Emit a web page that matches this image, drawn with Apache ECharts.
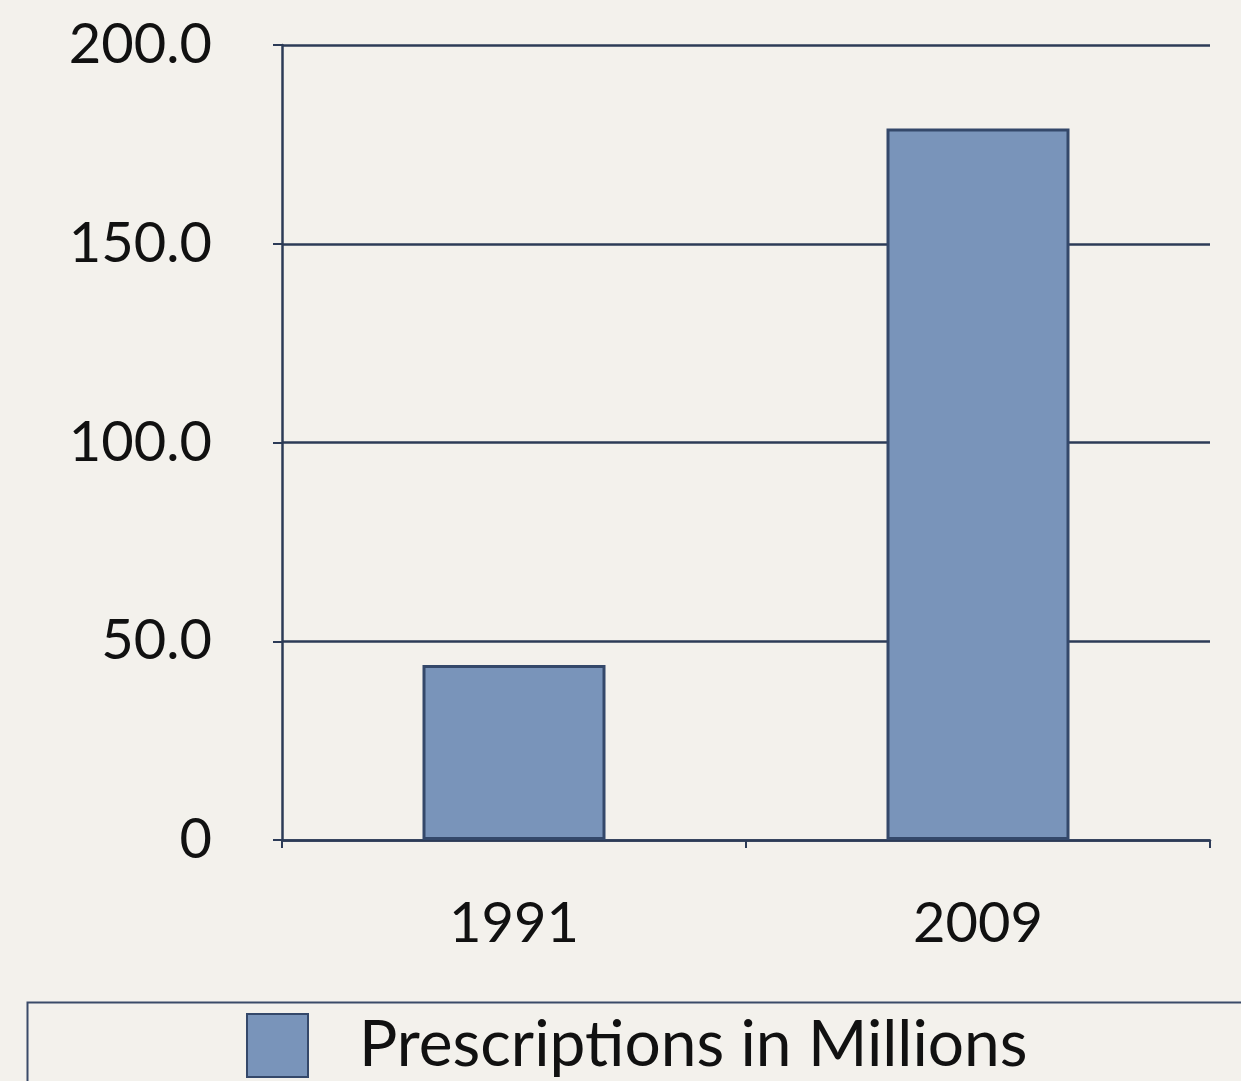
<!DOCTYPE html>
<html>
<head>
<meta charset="utf-8">
<script src="https://cdn.jsdelivr.net/npm/echarts@6/dist/echarts.min.js"></script>
<style>
html,body{margin:0;padding:0;background:#f3f1ec;}
#c{width:1241px;height:1081px;}
</style>
</head>
<body>
<div id="c"></div>
<script>
const categories = ["1991", "2009"];
const seriesName = "Prescriptions in Millions";
const values = [44, 179];
const yTickLabels = ["0", "50.0", "100.0", "150.0", "200.0"];

const lineColor = "#2c3b57";
const font = "Lato, 'Open Sans', sans-serif";
const chart = echarts.init(document.getElementById('c'));
chart.setOption({
  backgroundColor: "#f3f1ec",
  animation: false,
  grid: {left: 282, right: 31, top: 45, bottom: 241},
  xAxis: {
    type: 'category',
    data: categories,
    axisLine: {lineStyle: {color: lineColor, width: 2.5}},
    axisTick: {show: true, length: 8, lineStyle: {color: lineColor, width: 2}},
    axisLabel: {color: '#111', fontSize: 56, fontFamily: font, margin: 56}
  },
  yAxis: {
    type: 'value', min: 0, max: 200, interval: 50,
    axisLine: {show: true, lineStyle: {color: lineColor, width: 2.5}},
    axisTick: {show: true, length: 9, lineStyle: {color: lineColor, width: 2}},
    splitLine: {show: true, lineStyle: {color: lineColor, width: 2.5}},
    axisLabel: {
      color: '#111', fontSize: 56, fontFamily: font, margin: 70,
      formatter: function (v) { return yTickLabels[Math.round(v / 50)]; }
    }
  },
  legend: {
    left: 241, top: 1008,
    icon: 'rect',
    itemWidth: 61, itemHeight: 63,
    textStyle: {fontSize: 64, fontFamily: font, color: '#111', padding: [0, 0, 0, 46]},
    data: [seriesName]
  },
  graphic: [{
    type: 'rect', left: 25, top: 1000, z: -1,
    shape: {width: 1240, height: 100},
    style: {fill: 'none', stroke: '#3a4a68', lineWidth: 2}
  }],
  series: [{
    name: seriesName,
    type: 'bar',
    data: values,
    barWidth: 183,
    itemStyle: {color: '#7994ba', borderColor: '#34486a', borderWidth: 3}
  }]
});
</script>
</body>
</html>
